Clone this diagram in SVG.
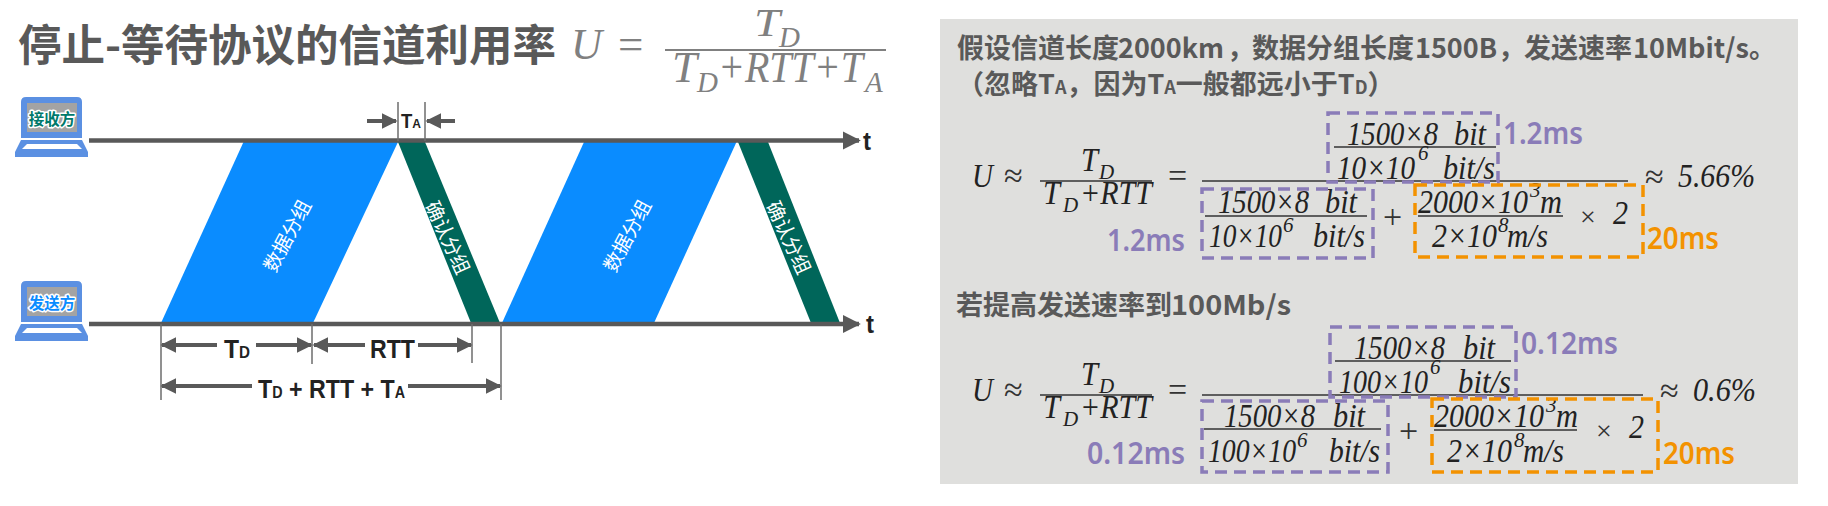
<svg xmlns="http://www.w3.org/2000/svg" width="1828" height="506" viewBox="0 0 1828 506">
<style>
text{font-family:"Noto Sans CJK SC","Liberation Sans",sans-serif}
.h{font-weight:700;fill:#595959;font-size:27px}
.m{font-family:"Liberation Serif",serif;font-style:italic;fill:#222;font-size:33px}
.s{font-family:"Liberation Serif",serif;font-style:italic;fill:#222;font-size:21px}
.n{font-family:"Liberation Serif",serif;fill:#333;font-size:34px}
.tm{font-family:"Liberation Serif",serif;font-style:italic;fill:#808080;font-size:45px}
.ts{font-family:"Liberation Serif",serif;font-style:italic;fill:#808080;font-size:29px}
.d{font-family:"Liberation Sans",sans-serif;font-weight:700;fill:#222;font-size:26px}
.p{font-family:"Noto Sans",sans-serif;font-weight:600;fill:#8a7cb8;font-size:31px}
.o{font-family:"Noto Sans",sans-serif;font-weight:600;fill:#f39200;font-size:31px}
.lp{fill:#5b90e2}
.sc{fill:#a3a3a3}
.lb{font-weight:700;font-size:15.5px;text-anchor:middle;stroke:#fff;stroke-width:3px;paint-order:stroke;stroke-linejoin:round}
.w{fill:#fff;font-size:19.5px;text-anchor:middle;dominant-baseline:central}
.ax{stroke:#595959;stroke-width:4.5px;fill:none}
.dm{stroke:#595959;stroke-width:4px;fill:none}
.tk{stroke:#6e6e6e;stroke-width:1.5px;fill:none}
.rl{stroke:#333;stroke-width:1.5px;fill:none}
.bp{stroke:#8a7cb8;stroke-width:3.5px;stroke-dasharray:12 7;fill:none}
.bo{stroke:#f39200;stroke-width:3.5px;stroke-dasharray:12 7;fill:none}
</style>
<defs>
<marker id="ah" viewBox="0 0 10 10" refX="9" refY="5" markerWidth="4" markerHeight="4.5" orient="auto-start-reverse"><path d="M0 0L10 5L0 10z" fill="#595959"/></marker>
<g id="laptop">
<path class="lp" d="M26 97H77Q82 97 82 102V138H21V102Q21 97 26 97z"/>
<rect class="sc" x="27" y="103" width="50" height="29"/>
<path class="lp" d="M21 140H82L88 152V157H15V152z"/>
<path fill="#fff" d="M27 144H77L82 149H22z"/>
</g>
</defs>
<rect width="1828" height="506" fill="#fff"/>

<g id="title">
<text class="h" x="18" y="61" style="font-size:43.5px">停止-等待协议的信道利用率</text>
<text class="tm" x="571" y="59" textLength="31" lengthAdjust="spacingAndGlyphs">U</text>
<text class="tm" x="618" y="59" style="font-style:normal">=</text>
<text class="tm" x="754" y="36" style="font-size:40px" textLength="26" lengthAdjust="spacingAndGlyphs">T</text>
<text class="ts" x="779" y="47">D</text>
<rect x="665" y="49" width="221" height="2" fill="#808080"/>
<text class="tm" x="672" y="82" textLength="25" lengthAdjust="spacingAndGlyphs">T</text>
<text class="ts" x="697" y="92">D</text>
<text class="tm" x="718" y="82" textLength="145" lengthAdjust="spacingAndGlyphs">+RTT+T</text>
<text class="ts" x="865" y="92">A</text>
</g>

<g id="packet-1"><path fill="#0a8cff" d="M243.5 142H398L313 323H161z"/><text class="w" transform="translate(286 235) rotate(-62)">数据分组</text></g>
<g id="ack-1"><path fill="#00665a" d="M398 142H425L500 323H471z"/><text class="w" transform="translate(449 237) rotate(65)">确认分组</text></g>
<g id="packet-2"><path fill="#0a8cff" d="M584 142H736.5L654 323H502z"/><text class="w" transform="translate(626 235) rotate(-62)">数据分组</text></g>
<g id="ack-2"><path fill="#00665a" d="M738 142H768L840 323H811z"/><text class="w" transform="translate(790 237) rotate(65)">确认分组</text></g>

<g id="receiver"><use href="#laptop"/><text class="lb" x="52" y="125" fill="#00796b">接收方</text></g>
<g id="sender"><use href="#laptop" y="184"/><text class="lb" x="52" y="309" fill="#0a8cff">发送方</text></g>

<g id="connectors">
<line class="ax" x1="89" y1="140.5" x2="859" y2="140.5" marker-end="url(#ah)"/>
<line class="ax" x1="89" y1="324" x2="859" y2="324" marker-end="url(#ah)"/>
<path class="tk" d="M398 102V141M425 102V141M161 324V400M312 324V364M472 324V363M501 324V400"/>
<line class="dm" x1="367" y1="121" x2="396" y2="121" marker-end="url(#ah)"/>
<line class="dm" x1="455" y1="121" x2="427" y2="121" marker-end="url(#ah)"/>
<line class="dm" x1="217" y1="345" x2="162" y2="345" marker-end="url(#ah)"/>
<line class="dm" x1="256" y1="345" x2="311" y2="345" marker-end="url(#ah)"/>
<line class="dm" x1="365" y1="345" x2="314" y2="345" marker-end="url(#ah)"/>
<line class="dm" x1="418" y1="345" x2="471" y2="345" marker-end="url(#ah)"/>
<line class="dm" x1="252" y1="386" x2="162" y2="386" marker-end="url(#ah)"/>
<line class="dm" x1="408" y1="386" x2="500" y2="386" marker-end="url(#ah)"/>
</g>

<g id="axis-labels">
<text class="d" x="863" y="150" textLength="8" lengthAdjust="spacingAndGlyphs">t</text>
<text class="d" x="866" y="333" textLength="8" lengthAdjust="spacingAndGlyphs">t</text>
<text class="d" x="401" y="128" style="font-size:20px" textLength="20" lengthAdjust="spacingAndGlyphs">T<tspan font-size="13">A</tspan></text>
<text class="d" x="224" y="358" textLength="26" lengthAdjust="spacingAndGlyphs">T<tspan font-size="16">D</tspan></text>
<text class="d" x="370" y="358" textLength="45" lengthAdjust="spacingAndGlyphs">RTT</text>
<text class="d" x="258" y="398" textLength="147" lengthAdjust="spacingAndGlyphs">T<tspan font-size="16">D</tspan> + RTT + T<tspan font-size="16">A</tspan></text>
</g>

<g id="panel">
<rect x="940" y="19" width="858" height="465" fill="#dfdfdd"/>
<text class="h" x="957" y="58">假设信道长度</text>
<text class="h" x="1118" y="58" textLength="106" lengthAdjust="spacingAndGlyphs">2000km</text>
<text class="h" x="1227" y="58">&#xFF0C;</text>
<text class="h" x="1252" y="58">数据分组长度</text>
<text class="h" x="1415" y="58" textLength="82" lengthAdjust="spacingAndGlyphs">1500B</text>
<text class="h" x="1498" y="58">&#xFF0C;</text>
<text class="h" x="1524" y="58">发送速率</text>
<text class="h" x="1633" y="58" textLength="116" lengthAdjust="spacingAndGlyphs">10Mbit/s</text>
<text class="h" x="1749" y="58">&#x3002;</text>
<text class="h" x="957" y="94">&#xFF08;忽略T<tspan font-size="18">A</tspan>&#xFF0C;因为T<tspan font-size="18">A</tspan>一般都远小于T<tspan font-size="18">D</tspan>&#xFF09;</text>
<text class="h" x="956" y="315">若提高发送速率到</text>
<text class="h" x="1171" y="315" textLength="120" lengthAdjust="spacingAndGlyphs">100Mb/s</text>
</g>

<g id="formula-1">
<text class="m" x="972" y="187" textLength="21" lengthAdjust="spacingAndGlyphs">U</text>
<text class="n" x="1004" y="187">≈</text>
<text class="m" x="1081" y="171" textLength="17" lengthAdjust="spacingAndGlyphs">T</text><text class="s" x="1099" y="179">D</text>
<line class="rl" x1="1040" y1="181" x2="1152" y2="181"/>
<text class="m" x="1043" y="204" textLength="17" lengthAdjust="spacingAndGlyphs">T</text><text class="s" x="1063" y="212">D</text>
<text class="m" x="1080" y="204" textLength="72" lengthAdjust="spacingAndGlyphs">+RTT</text>
<text class="n" x="1168" y="187">=</text>
<line class="rl" x1="1202" y1="181" x2="1628" y2="181"/>
<text class="m" x="1347" y="145" textLength="91" lengthAdjust="spacingAndGlyphs">1500×8</text><text class="m" x="1454" y="145" textLength="32" lengthAdjust="spacingAndGlyphs">bit</text>
<line class="rl" x1="1334" y1="147" x2="1496" y2="147"/>
<text class="m" x="1337" y="179" textLength="78" lengthAdjust="spacingAndGlyphs">10×10</text><text class="m" x="1443" y="179" textLength="52" lengthAdjust="spacingAndGlyphs">bit/s</text><text class="s" x="1418" y="160">6</text>
<rect class="bp" x="1328" y="113" width="170" height="69"/>
<text class="p" x="1503" y="144" textLength="80" lengthAdjust="spacingAndGlyphs">1.2ms</text>
<text class="m" x="1218" y="213" textLength="91" lengthAdjust="spacingAndGlyphs">1500×8</text><text class="m" x="1325" y="213" textLength="32" lengthAdjust="spacingAndGlyphs">bit</text>
<line class="rl" x1="1205" y1="216" x2="1367" y2="216"/>
<text class="m" x="1209" y="247" textLength="73" lengthAdjust="spacingAndGlyphs">10×10</text><text class="m" x="1313" y="247" textLength="52" lengthAdjust="spacingAndGlyphs">bit/s</text><text class="s" x="1283" y="232">6</text>
<rect class="bp" x="1202" y="189" width="171" height="69"/>
<text class="p" x="1107" y="251" textLength="78" lengthAdjust="spacingAndGlyphs">1.2ms</text>
<text class="n" x="1383" y="228">+</text>
<text class="m" x="1418" y="213" textLength="110" lengthAdjust="spacingAndGlyphs">2000×10</text><text class="m" x="1540" y="213" textLength="22" lengthAdjust="spacingAndGlyphs">m</text><text class="s" x="1530" y="197">3</text>
<line class="rl" x1="1418" y1="216" x2="1563" y2="216"/>
<text class="m" x="1432" y="247" textLength="65" lengthAdjust="spacingAndGlyphs">2×10</text><text class="m" x="1507" y="247" textLength="41" lengthAdjust="spacingAndGlyphs">m/s</text><text class="s" x="1498" y="232">8</text>
<text class="n" x="1580" y="226" style="font-size:28px">×</text>
<text class="m" x="1613" y="224" textLength="15" lengthAdjust="spacingAndGlyphs">2</text>
<rect class="bo" x="1415" y="185" width="228" height="72"/>
<text class="o" x="1647" y="249" textLength="72" lengthAdjust="spacingAndGlyphs">20ms</text>
<text class="n" x="1645" y="188">≈</text>
<text class="m" x="1678" y="187" textLength="77" lengthAdjust="spacingAndGlyphs">5.66%</text>
</g>

<g id="formula-2">
<g transform="translate(0 214)">
<text class="m" x="972" y="187" textLength="21" lengthAdjust="spacingAndGlyphs">U</text>
<text class="n" x="1004" y="187">≈</text>
<text class="m" x="1081" y="171" textLength="17" lengthAdjust="spacingAndGlyphs">T</text><text class="s" x="1099" y="179">D</text>
<line class="rl" x1="1040" y1="181" x2="1152" y2="181"/>
<text class="m" x="1043" y="204" textLength="17" lengthAdjust="spacingAndGlyphs">T</text><text class="s" x="1063" y="212">D</text>
<text class="m" x="1080" y="204" textLength="72" lengthAdjust="spacingAndGlyphs">+RTT</text>
<text class="n" x="1168" y="187">=</text>
</g>
<line class="rl" x1="1202" y1="395" x2="1643" y2="395"/>
<text class="m" x="1354" y="359" textLength="91" lengthAdjust="spacingAndGlyphs">1500×8</text><text class="m" x="1463" y="359" textLength="32" lengthAdjust="spacingAndGlyphs">bit</text>
<line class="rl" x1="1335" y1="361" x2="1511" y2="361"/>
<text class="m" x="1339" y="393" textLength="89" lengthAdjust="spacingAndGlyphs">100×10</text><text class="m" x="1458" y="393" textLength="53" lengthAdjust="spacingAndGlyphs">bit/s</text><text class="s" x="1430" y="374">6</text>
<rect class="bp" x="1330" y="327" width="186" height="70"/>
<text class="p" x="1521" y="354" textLength="97" lengthAdjust="spacingAndGlyphs">0.12ms</text>
<text class="m" x="1224" y="427" textLength="91" lengthAdjust="spacingAndGlyphs">1500×8</text><text class="m" x="1333" y="427" textLength="32" lengthAdjust="spacingAndGlyphs">bit</text>
<line class="rl" x1="1204" y1="429" x2="1381" y2="429"/>
<text class="m" x="1208" y="462" textLength="88" lengthAdjust="spacingAndGlyphs">100×10</text><text class="m" x="1329" y="462" textLength="51" lengthAdjust="spacingAndGlyphs">bit/s</text><text class="s" x="1297" y="447">6</text>
<rect class="bp" x="1202" y="401" width="186" height="71"/>
<text class="p" x="1087" y="464" textLength="98" lengthAdjust="spacingAndGlyphs">0.12ms</text>
<text class="n" x="1399" y="442">+</text>
<text class="m" x="1434" y="427" textLength="110" lengthAdjust="spacingAndGlyphs">2000×10</text><text class="m" x="1556" y="427" textLength="22" lengthAdjust="spacingAndGlyphs">m</text><text class="s" x="1546" y="412">3</text>
<line class="rl" x1="1434" y1="430" x2="1577" y2="430"/>
<text class="m" x="1447" y="462" textLength="65" lengthAdjust="spacingAndGlyphs">2×10</text><text class="m" x="1523" y="462" textLength="41" lengthAdjust="spacingAndGlyphs">m/s</text><text class="s" x="1514" y="447">8</text>
<text class="n" x="1596" y="440" style="font-size:28px">×</text>
<text class="m" x="1629" y="438" textLength="15" lengthAdjust="spacingAndGlyphs">2</text>
<rect class="bo" x="1432" y="399" width="226" height="73"/>
<text class="o" x="1663" y="464" textLength="72" lengthAdjust="spacingAndGlyphs">20ms</text>
<text class="n" x="1660" y="402">≈</text>
<text class="m" x="1693" y="401" textLength="63" lengthAdjust="spacingAndGlyphs">0.6%</text>
</g>
</svg>
